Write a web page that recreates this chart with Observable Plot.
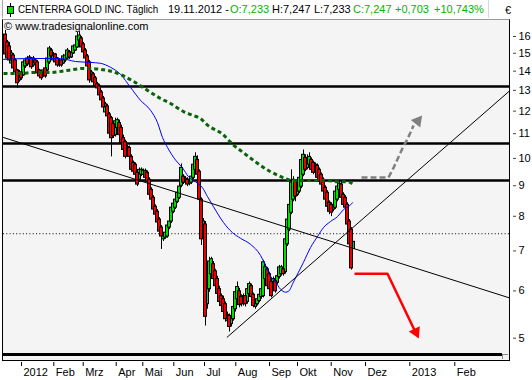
<!DOCTYPE html>
<html><head><meta charset="utf-8">
<script src="https://cdn.jsdelivr.net/npm/d3@7"></script>
<script src="https://cdn.jsdelivr.net/npm/@observablehq/plot@0.6"></script>
<style>
html,body{margin:0;padding:0;background:#fff;}
body{width:532px;height:380px;position:relative;overflow:hidden;font-family:"Liberation Sans",Arial,sans-serif;font-size:11px;color:#000;}
.abs{position:absolute;white-space:nowrap;line-height:11px;}
.g{color:#00b400;}
#hbox{position:absolute;left:2px;top:0;width:485px;height:18px;background:#fff;border-left:1px solid #a8a8a8;border-right:1px solid #d8d8d8;}
#panel{position:absolute;left:2px;top:19px;width:506px;height:340px;background:#f4f4f4;border:1px solid #000;border-top-color:#9a9a9a;}
#thick{position:absolute;left:3px;top:353px;width:499px;height:3px;background:#000;}
#grip{position:absolute;left:502px;top:354px;width:5px;height:4px;border-left:1px solid #888;border-top:1px solid #888;background:#f4f4f4;}
#iconline{position:absolute;left:10px;top:3px;width:1px;height:14px;background:#000;}
#iconbox{position:absolute;left:7px;top:6px;width:5px;height:6px;background:#00e000;border:1px solid #000;}
#chart{position:absolute;left:0;top:19px;}
#ttl{transform:scaleX(0.89);transform-origin:0 0;}
#eur{position:absolute;left:505px;top:5px;font-size:11px;line-height:11px;z-index:5;}
</style></head>
<body>
<div id="hbox"></div>
<div id="panel"></div>
<div id="thick"></div>
<div id="grip"></div>
<div id="iconline"></div><div id="iconbox"></div>
<span id="ttl" class="abs" style="left:18px;top:4px">CENTERRA GOLD INC. Täglich</span>
<span class="abs" style="left:168px;top:4px">19.11.2012 -</span>
<span class="abs g" style="left:230px;top:4px">O:7,233</span>
<span class="abs" style="left:272px;top:4px">H:7,247</span>
<span class="abs" style="left:314px;top:4px">L:7,233</span>
<span class="abs g" style="left:353px;top:4px">C:7,247</span>
<span class="abs g" style="left:395px;top:4px">+0,703</span>
<span class="abs g" style="left:434px;top:4px">+10,743%</span>
<span id="eur">€</span>
<span class="abs" style="left:4px;top:21px">© www.tradesignalonline.com</span>
<div id="chart"></div>
<script>
// Daily candles (index 1..175), prices in EUR
const opens  = [16.12,15.64,15.40,14.42,14.87,14.59,14.04,13.51,13.93,13.77,14.26,14.70,14.37,14.70,14.31,14.59,14.48,14.04,13.93,13.72,14.15,14.04,14.48,15.16,14.59,14.93,14.70,14.31,14.59,14.42,14.59,14.70,15.05,14.76,14.99,15.16,15.34,15.76,15.88,15.52,15.16,14.82,14.48,13.51,13.83,13.62,13.31,13.20,12.90,12.60,11.94,12.22,11.85,11.68,11.41,10.94,11.24,11.46,11.24,10.81,10.65,10.14,10.41,10.06,9.83,9.76,9.46,9.21,9.39,9.39,9.53,9.46,9.21,8.86,8.59,8.30,8.14,7.90,7.66,7.32,7.37,7.40,7.66,7.84,8.14,8.27,8.46,8.59,9.00,9.32,9.11,9.21,9.07,9.11,9.28,9.57,9.94,9.50,8.53,7.66,7.75,5.70,6.04,6.40,6.65,6.47,6.28,6.04,5.88,5.81,5.70,5.34,5.45,5.28,5.38,5.59,5.81,5.99,5.86,5.70,5.88,5.75,5.93,6.11,5.91,5.64,5.70,5.77,5.86,5.88,6.28,6.52,6.40,6.21,6.04,6.23,6.19,6.33,6.40,6.52,6.45,7.18,7.60,8.11,8.53,9.14,8.69,8.80,8.97,9.39,10.02,9.64,9.76,9.94,9.83,9.50,9.72,9.57,9.39,9.21,8.93,8.76,8.43,8.36,8.21,8.27,8.53,8.86,9.04,8.69,8.59,8.36,7.84,7.60,7.05];
const highs  = [16.38,15.76,15.64,15.16,14.99,14.70,14.10,14.04,14.04,14.59,14.70,14.82,14.87,14.76,14.82,14.70,14.59,14.10,13.98,14.10,14.21,14.82,15.40,15.28,15.05,14.99,14.76,14.65,14.65,14.93,14.93,15.28,15.16,15.10,15.46,15.52,16.25,16.30,16.00,15.64,15.28,14.93,14.59,14.04,13.93,13.72,13.41,13.31,13.00,12.70,12.41,12.32,11.94,11.76,11.50,11.68,11.68,11.59,11.37,10.94,10.73,10.53,10.49,10.14,9.90,9.83,9.53,9.64,9.64,9.60,9.60,9.53,9.28,8.93,8.66,8.36,8.21,7.96,7.72,7.51,7.57,7.78,7.90,8.33,8.46,8.59,8.83,9.04,9.79,9.39,9.32,9.28,9.28,9.39,9.83,10.22,10.10,9.57,8.59,7.93,7.84,6.11,6.83,6.83,6.72,6.52,6.35,6.11,5.93,5.88,5.75,5.53,5.49,5.47,5.70,6.04,6.21,6.06,5.91,5.93,5.93,6.09,6.21,6.16,5.95,5.81,5.86,5.95,6.09,6.75,6.65,6.57,6.45,6.26,6.33,6.28,6.40,6.62,6.62,6.57,7.40,7.96,8.43,9.57,9.32,9.21,9.11,9.35,10.14,10.33,10.14,10.14,10.22,10.02,9.90,9.83,9.79,9.64,9.46,9.28,9.00,8.83,8.49,8.43,8.43,8.86,9.04,9.14,9.14,8.76,8.66,8.43,7.90,7.66,7.25];
const lows   = [14.76,14.59,14.42,14.31,14.04,13.83,13.10,13.41,13.51,13.72,14.15,14.26,14.26,14.10,14.21,14.31,13.77,13.62,13.51,13.67,13.62,13.98,14.37,14.70,14.48,14.37,14.21,14.21,14.21,14.37,14.48,14.65,14.65,14.70,14.93,15.10,15.28,15.64,15.22,14.93,14.59,14.15,13.36,13.41,13.31,13.10,12.95,12.65,12.41,12.08,11.85,11.68,10.90,10.06,10.80,10.86,11.15,10.86,10.53,10.23,9.98,10.06,9.98,9.50,9.43,9.32,8.97,9.11,9.32,9.32,9.21,9.07,8.63,8.46,8.14,7.99,7.75,7.43,7.04,7.26,7.32,7.35,7.60,7.78,8.08,8.21,8.40,8.53,8.93,9.04,9.04,8.97,9.00,9.04,9.21,9.50,9.32,8.46,7.15,7.60,5.24,5.59,5.97,6.35,6.21,6.04,5.88,5.70,5.59,5.49,5.32,5.28,5.12,5.22,5.34,5.53,5.75,5.62,5.64,5.66,5.64,5.70,5.88,5.81,5.62,5.59,5.66,5.73,5.81,5.84,6.21,6.06,5.99,5.84,5.99,5.95,6.14,6.28,6.35,6.35,6.40,7.12,7.54,8.05,8.46,8.46,8.63,8.73,8.90,9.32,9.50,9.57,9.68,9.50,9.39,9.43,9.21,9.07,8.97,8.73,8.46,8.24,8.05,7.99,8.14,8.21,8.46,8.80,8.53,8.30,8.21,7.69,7.12,6.50,7.05];
const closes = [14.93,14.70,14.59,14.99,14.15,13.93,13.36,13.93,13.62,14.48,14.59,14.37,14.76,14.21,14.70,14.42,13.88,13.72,13.62,14.04,13.72,14.70,15.28,14.82,14.93,14.48,14.31,14.59,14.31,14.82,14.87,15.16,14.76,15.05,15.40,15.46,16.00,16.06,15.34,15.05,14.70,14.26,13.51,13.93,13.41,13.20,13.10,12.75,12.51,12.17,12.32,11.76,11.00,10.81,10.90,11.54,11.59,10.94,10.61,10.33,10.06,10.45,10.06,9.57,9.50,9.39,9.04,9.57,9.57,9.53,9.28,9.14,8.69,8.53,8.21,8.05,7.81,7.54,7.40,7.46,7.51,7.72,7.84,8.27,8.40,8.53,8.76,8.97,9.64,9.11,9.25,9.04,9.21,9.32,9.76,10.06,9.39,8.53,7.32,7.84,5.43,6.04,6.72,6.78,6.28,6.11,5.93,5.75,5.66,5.53,5.38,5.47,5.22,5.43,5.64,5.97,6.09,5.68,5.70,5.88,5.70,6.04,6.16,5.86,5.66,5.77,5.81,5.91,6.04,6.70,6.57,6.11,6.04,5.88,6.28,5.99,6.35,6.57,6.57,6.40,7.32,7.90,8.36,9.11,9.21,8.63,9.04,9.28,9.94,10.14,9.57,10.02,10.06,9.57,9.46,9.76,9.28,9.14,9.04,8.80,8.53,8.30,8.14,8.11,8.36,8.80,8.97,9.07,8.59,8.36,8.27,7.75,7.18,6.544,7.25];

// Moving averages (candle index, price)
const blueI = [0,13.5,28.5,36,43.5,48.5,53.5,58.5,63.5,68.5,73.5,77,79.5,82,86,89.5,92.5,96,99.5,102,105,110,114.5,118.5,123.5,128.5,131,133.5,136,138.5,141,142.5,145,147.5,150,153.5,157,160,163.5,167,170,173.5,174.5];
const blueP = [14.65,14.70,14.70,14.53,14.48,14.43,14.21,13.83,13.15,12.51,12.04,11.48,10.84,10.43,9.94,9.64,9.32,9.14,8.93,8.63,8.30,7.81,7.51,7.35,7.18,6.88,6.62,6.35,6.21,6.04,5.97,5.99,6.21,6.45,6.70,7.09,7.40,7.66,7.84,7.99,8.21,8.36,8.43];
const greenI = [0,8.5,15,23.5,32,40,48.5,57,65,72,78.5,83.5,90,94.5,98.5,102,109.5,115,119.5,126,133.5,137.5,141,145,153.5,162,167,172,175];
const greenP = [13.88,13.88,13.93,13.93,14.04,14.15,14.10,13.88,13.46,13.00,12.60,12.36,11.98,11.81,11.66,11.37,10.98,10.53,10.25,9.87,9.50,9.36,9.25,9.18,9.18,9.18,9.14,9.14,9.04];

// Horizontal levels and trend lines
const levels = [13.2, 10.59, 9.18];
const dottedLevel = 7.48;
const downTrendI = [0, 253], downTrendP = [10.84, 5.84];
const upTrendI = [111.85, 253], upTrendP = [5.02, 12.97];

// Scenario arrows
const grayI = [179, 192.5, 195, 197, 199.5, 201.5, 203.5, 205];
const grayP = [9.29, 9.29, 9.64, 9.97, 10.4, 10.7, 11.05, 11.35];
const grayTip = {i: 209.3, p: 11.8};
const redI = [176, 192, 205.35];
const redP = [6.41, 6.41, 5.17];
const redTip = {i: 207.65, p: 4.995};

// Axis ticks
const yTicks = [5,6,7,8,9,10,11,12,13,14,15,16];
const xTickPos = [9, 25.15, 39.85, 56.35, 69.65, 85.15, 100.5, 116.15, 133, 147, 163.85, 181, 203.15, 225.65];
const xTickLabels = ["2012","Feb","Mrz","Apr","Mai","Jun","Jul","Aug","Sep","Okt","Nov","Dez","2013","Feb"];

const candles = opens.map((o, k) => ({i: k + 1, open: o, high: highs[k], low: lows[k], close: closes[k]}));
const upC = candles.filter(d => d.close >= d.open);
const dnC = candles.filter(d => d.close < d.open);
const pts = (is, ps) => is.map((i, k) => ({i, p: ps[k]}));
const bw = 0.75;

const chart = Plot.plot({
  width: 532, height: 361,
  marginLeft: 3, marginRight: 23, marginTop: 1, marginBottom: 25,
  style: {background: "transparent", fontFamily: "'Liberation Sans', Arial, sans-serif", fontSize: "11px", color: "#000", overflow: "visible"},
  x: {type: "linear", domain: [0, 253]},
  y: {type: "log", domain: [4.677, 17.02]},
  marks: [
    Plot.ruleY([dottedLevel], {stroke: "#000", strokeWidth: 1, strokeDasharray: "1,2.3"}),
    Plot.ruleY(levels, {stroke: "#000", strokeWidth: 2.5}),
    Plot.ruleX(candles, {x: "i", y1: "low", y2: "high", stroke: "#000", strokeWidth: 1}),
    Plot.rect(upC, {x1: d => d.i - bw, x2: d => d.i + bw, y1: "open", y2: "close", fill: "#00e000", stroke: "#000", strokeWidth: 1}),
    Plot.rect(dnC, {x1: d => d.i - bw, x2: d => d.i + bw, y1: "open", y2: "close", fill: "#ee0000", stroke: "#000", strokeWidth: 1}),
    Plot.line(pts(blueI, blueP), {x: "i", y: "p", stroke: "#0000ff", strokeWidth: 1, curve: "monotone-x"}),
    Plot.line(pts(greenI, greenP), {x: "i", y: "p", stroke: "#0a640a", strokeWidth: 3, strokeDasharray: "4,3", strokeLinecap: "butt", curve: "monotone-x"}),
    Plot.line(pts(downTrendI, downTrendP), {x: "i", y: "p", stroke: "#000", strokeWidth: 1, clip: true}),
    Plot.line(pts(upTrendI, upTrendP), {x: "i", y: "p", stroke: "#000", strokeWidth: 1, clip: true}),
    Plot.line(pts(grayI, grayP), {x: "i", y: "p", stroke: "#808080", strokeWidth: 2.5, strokeDasharray: "6,3", strokeLinecap: "butt"}),
    Plot.dot([grayTip], {x: "i", y: "p", symbol: "triangle", r: 4.5, fill: "#808080", rotate: 38.7, dx: -4.4, dy: 5.5}),
    Plot.line(pts(redI, redP), {x: "i", y: "p", stroke: "#ff0000", strokeWidth: 2.5}),
    Plot.dot([redTip], {x: "i", y: "p", symbol: "triangle", r: 4.5, fill: "#ff0000", rotate: 154.5, dx: -3.0, dy: -6.3}),
    Plot.axisY(yTicks, {anchor: "right", tickSize: 3, tickPadding: 3, dx: 3, tickFormat: d => String(d), label: null, stroke: "#444"}),
    Plot.axisX(xTickPos, {anchor: "bottom", tickSize: 4, dy: 7, fill: "none", stroke: "#000", label: null}),
    Plot.axisX(xTickPos, {anchor: "bottom", tickSize: 0, tickPadding: 0, dy: 13, dx: 2, textAnchor: "start", fill: "#000", tickFormat: d => xTickLabels[xTickPos.indexOf(d)], label: null})
  ]
});
document.getElementById("chart").appendChild(chart);
</script>
</body></html>
